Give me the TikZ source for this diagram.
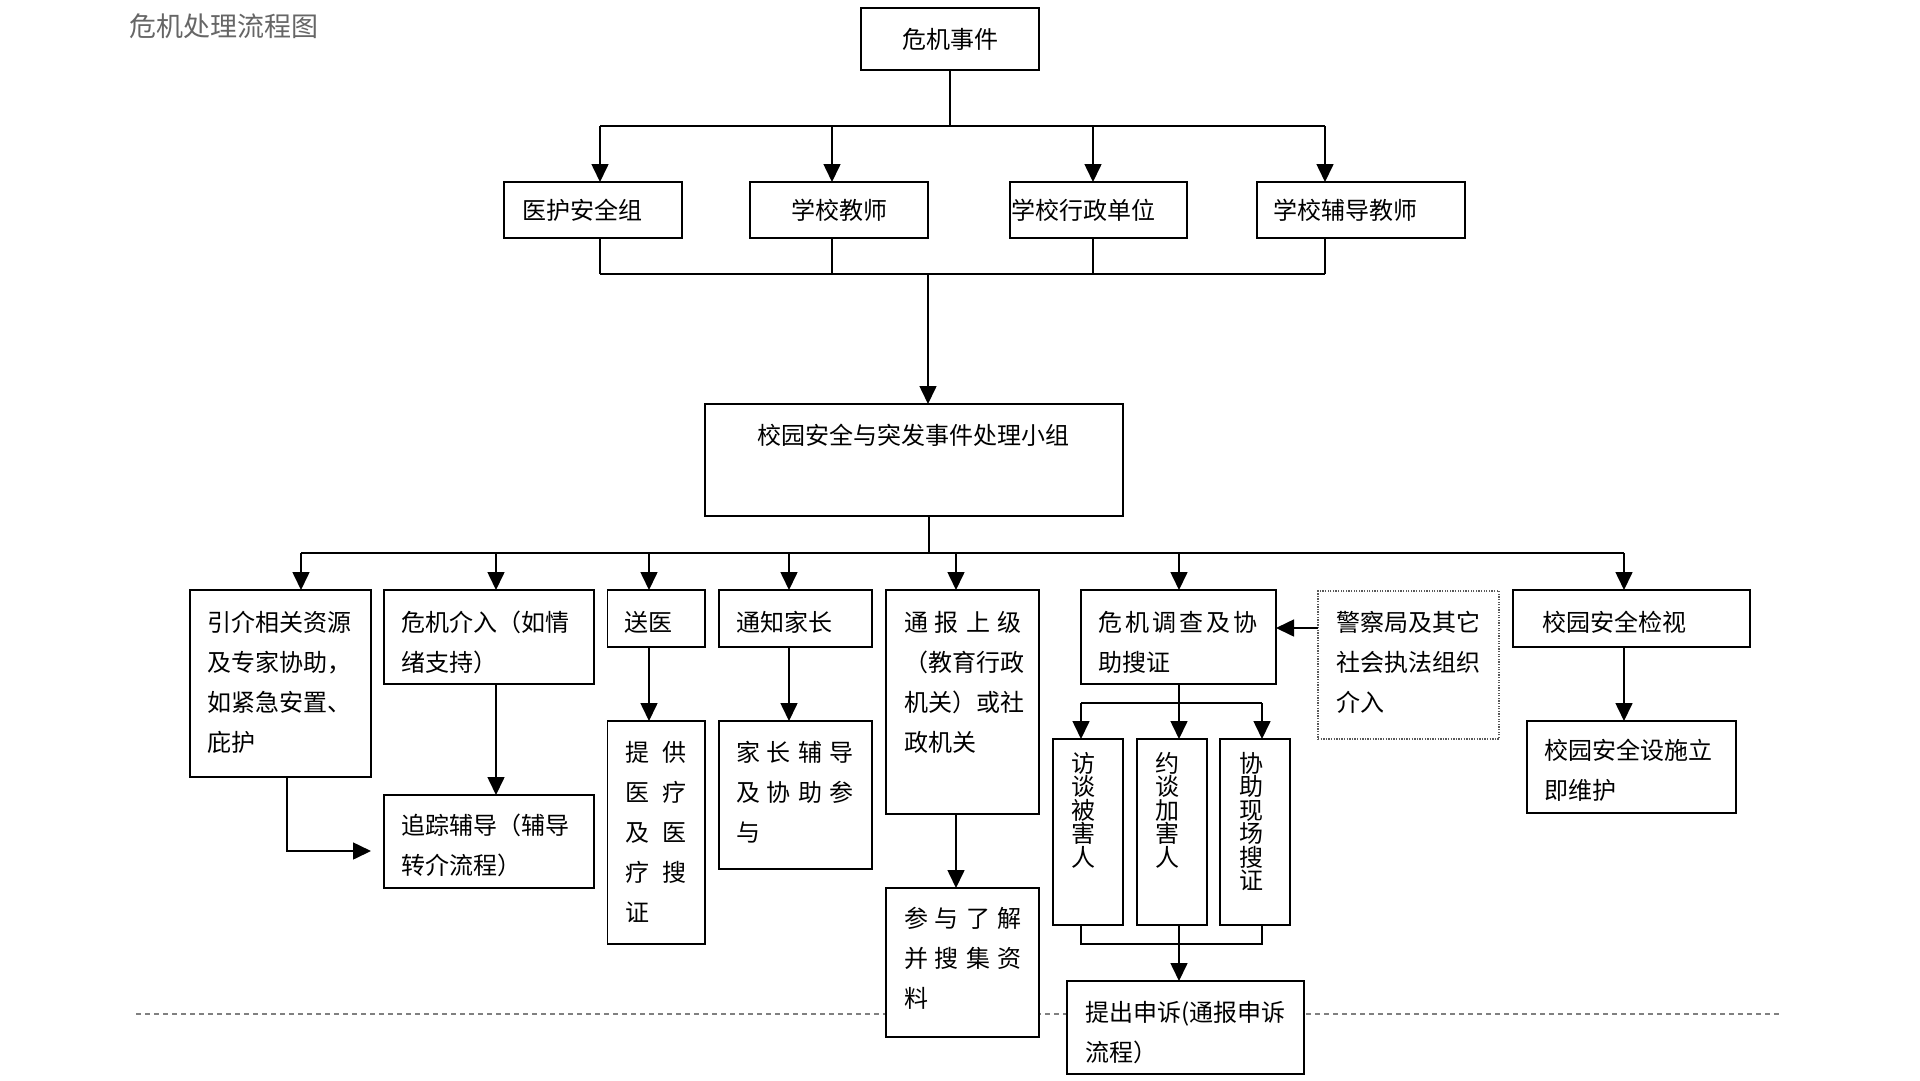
\documentclass[tikz,border=0pt]{standalone}
\usepackage{fontspec}
\setmainfont{Noto Sans CJK SC}
\usetikzlibrary{arrows.meta,fit}
\tikzset{
 box/.style={draw=black, line width=1.6pt, fill=white, inner sep=0pt, outer sep=0pt},
 dotbox/.style={draw=black!65, line width=1.3pt, dash pattern=on 1.3pt off 1.3pt, fill=white, inner sep=0pt, outer sep=0pt},
 txt/.style={inner sep=0pt, outer sep=0pt, align=left, font=\fontsize{24}{40}\selectfont},
 vtxt/.style={inner sep=0pt, outer sep=0pt, align=center, font=\fontsize{24}{23.5}\selectfont},
 ln/.style={line width=1.6pt},
 arr/.style={ln, -{Triangle[length=18pt,width=17pt]}},
 sepline/.style={draw=black!50, line width=1.5pt, dash pattern=on 5pt off 4pt},
}
\newcommand\jus[2]{\hbox to #1{#2}}
\begin{document}
\begin{tikzpicture}[x=1pt,y=-1pt]
\useasboundingbox (0,0) rectangle (1920,1080);
\fill[white] (0,0) rectangle (1920,1080);

% title
\node[inner sep=0pt, anchor=base west, text=black!60, font=\fontsize{27}{27}\selectfont] (title) at (129,36.5) {危机处理流程图};

% separator dashed line (under the boxes)
\coordinate (dl) at (136,1014);
\coordinate (dr) at (1782,1014);
\draw[sepline] (dl) -- (dr);

% boxes
\node[box, fit={(861,8) (1039,70)}] (ev) {};
\node[box, fit={(504,182) (682,238)}] (med) {};
\node[box, fit={(750,182) (928,238)}] (tea) {};
\node[box, fit={(1010,182) (1187,238)}] (adm) {};
\node[box, fit={(1257,182) (1465,238)}] (cou) {};
\node[box, fit={(705,404) (1123,516)}] (grp) {};

\node[box, fit={(190,590) (371,777)}] (ref) {};
\node[box, fit={(384,590) (594,684)}] (cri) {};
\node[box, fit={(607.5,590) (705,647)}] (hos) {};
\node[box, fit={(719,590) (872,647)}] (par) {};
\node[box, fit={(886,590) (1039,814)}] (rep) {};
\node[box, fit={(1081,590) (1276,684)}] (inv) {};
\node[dotbox, fit={(1318,591) (1499,739)}] (pol) {};
\node[box, fit={(1513,590) (1750,647)}] (chk) {};

\node[box, fit={(384,795) (594,888)}] (trk) {};
\node[box, fit={(607.5,721) (705,944)}] (mdl) {};
\node[box, fit={(719,721) (872,869)}] (pg) {};
\node[box, fit={(886,888) (1039,1037)}] (col) {};
\node[box, fit={(1053,739) (1123,925)}] (v1) {};
\node[box, fit={(1137,739) (1207,925)}] (v2) {};
\node[box, fit={(1220,739) (1290,925)}] (v3) {};
\node[box, fit={(1067,981) (1304,1074)}] (app) {};
\node[box, fit={(1527,721) (1736,813)}] (fix) {};

% texts (multi-line nodes are anchored at the baseline of their last line)
\node[txt] (tev) at (ev.center) {危机事件};
\node[txt, anchor=west] (tmed) at (522,210) {医护安全组};
\node[txt, anchor=west] (ttea) at (791,210) {学校教师};
\node[txt, anchor=west] (tadm) at (1011,210) {学校行政单位};
\node[txt, anchor=west] (tcou) at (1273,210) {学校辅导教师};
\node[txt, anchor=base west] (tgrp) at (757,444) {校园安全与突发事件处理小组};

\node[txt, anchor=base west] (tref) at (207,751) {引介相关资源\\及专家协助，\\如紧急安置、\\庇护};
\node[txt, anchor=base west] (tcri) at (401,671) {危机介入（如情\\绪支持）};
\node[txt, anchor=base west] (thos) at (624,631) {送医};
\node[txt, anchor=base west] (tmdl) at (625,921) {\jus{62pt}{提\hfill 供}\\\jus{62pt}{医\hfill 疗}\\\jus{62pt}{及\hfill 医}\\\jus{62pt}{疗\hfill 搜}\\证};
\node[txt, anchor=base west] (tpar) at (736,631) {通知家长};
\node[txt, anchor=base west] (tpg) at (736,841) {\jus{117pt}{家\hfill 长\hfill 辅\hfill 导}\\\jus{117pt}{及\hfill 协\hfill 助\hfill 参}\\与};
\node[txt, anchor=base west] (trep) at (904,751) {\jus{117pt}{通\hfill 报\hfill 上\hfill 级}\\（教育行政\\机关）或社\\政机关};
\node[txt, anchor=base west] (tcol) at (904,1007) {\jus{117pt}{参\hfill 与\hfill 了\hfill 解}\\\jus{117pt}{并\hfill 搜\hfill 集\hfill 资}\\料};
\node[txt, anchor=base west] (tinv) at (1098,671) {\jus{160pt}{危\hfill 机\hfill 调\hfill 查\hfill 及\hfill 协}\\助搜证};
\node[txt, anchor=base west] (tpol) at (1336,711) {警察局及其它\\社会执法组织\\介入};
\node[txt, anchor=base west] (tchk) at (1542,631) {校园安全检视};
\node[txt, anchor=base west] (tfix) at (1544,799) {校园安全设施立\\即维护};
\node[txt, anchor=base west] (ttrk) at (401,874) {追踪辅导（辅导\\转介流程）};
\node[txt, anchor=base west] (tapp) at (1085,1061) {提出申诉(通报申诉\\流程）};
\node[vtxt, anchor=base] (tv1) at (1083,866) {访\\谈\\被\\害\\人};
\node[vtxt, anchor=base] (tv2) at (1167,866) {约\\谈\\加\\害\\人};
\node[vtxt, anchor=base] (tv3) at (1251,889.5) {协\\助\\现\\场\\搜\\证};

% connectors: top level
\coordinate (busA) at (950,126);
\coordinate (xa) at (600,0);
\coordinate (xb) at (832,0);
\coordinate (xc) at (1093,0);
\coordinate (xd) at (1325,0);
\draw[ln] (ev.south) -- (busA);
\draw[ln] (xa |- busA) -- (xd |- busA);
\foreach \n/\x in {med/xa,tea/xb,adm/xc,cou/xd}
  \draw[arr] (\x |- busA) -- (\n.north -| \x);
\coordinate (busB) at (928,274);
\foreach \n/\x in {med/xa,tea/xb,adm/xc,cou/xd}
  \draw[ln] (\n.south -| \x) -- (\x |- busB);
\draw[ln] (xa |- busB) -- (xd |- busB);
\draw[arr] (busB) -- (grp.north -| busB);

% second level
\coordinate (busC) at (929,553);
\draw[ln] (grp.south -| busC) -- (busC);
\coordinate (y1) at (301,0);
\coordinate (y2) at (496,0);
\coordinate (y3) at (649,0);
\coordinate (y4) at (789,0);
\coordinate (y5) at (956,0);
\coordinate (y6) at (1179,0);
\coordinate (y7) at (1624,0);
\draw[ln] (y1 |- busC) -- (y7 |- busC);
\foreach \n/\x in {ref/y1,cri/y2,hos/y3,par/y4,rep/y5,inv/y6,chk/y7}
  \draw[arr] (\x |- busC) -- (\n.north -| \x);

\draw[arr] (cri.south -| y2) -- (trk.north -| y2);
\draw[arr] (hos.south -| y3) -- (mdl.north -| y3);
\draw[arr] (par.south -| y4) -- (pg.north -| y4);
\draw[arr] (rep.south -| y5) -- (col.north -| y5);
\draw[arr] (chk.south -| y7) -- (fix.north -| y7);
\coordinate (e1) at (287,851);
\draw[arr, shorten >=13pt] (ref.south -| e1) -- (e1) -- (trk.west |- e1);
\coordinate (pe) at (1300,628);
\draw[arr] (pol.west |- pe) -- (inv.east |- pe);

% investigation branch
\coordinate (busD) at (1179,703);
\coordinate (z1) at (1081,0);
\coordinate (z3) at (1262,0);
\draw[ln] (inv.south -| busD) -- (busD);
\draw[ln] (z1 |- busD) -- (z3 |- busD);
\draw[arr] (z1 |- busD) -- (v1.north -| z1);
\draw[arr] (busD) -- (v2.north -| busD);
\draw[arr] (z3 |- busD) -- (v3.north -| z3);
\coordinate (busE) at (1179,944);
\draw[ln] (v1.south -| z1) -- (z1 |- busE) -- (z3 |- busE) -- (v3.south -| z3);
\draw[ln] (v2.south -| busE) -- (busE);
\draw[arr] (busE) -- (app.north -| busE);
\end{tikzpicture}
\end{document}
